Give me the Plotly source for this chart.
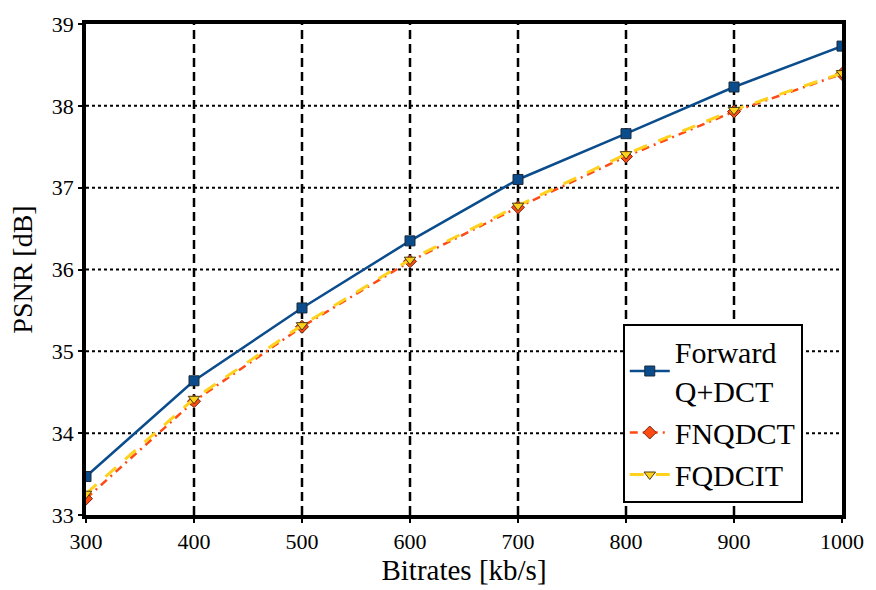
import plotly.graph_objects as go

bitrates = [300, 400, 500, 600, 700, 800, 900, 1000]
psnr_forward = [33.47, 34.64, 35.53, 36.35, 37.10, 37.66, 38.23, 38.73]
psnr_fnqdct = [33.20, 34.39, 35.30, 36.10, 36.76, 37.38, 37.93, 38.39]
psnr_fqdcit = [33.26, 34.42, 35.32, 36.12, 36.78, 37.41, 37.95, 38.40]

x_ticks = [300, 400, 500, 600, 700, 800, 900, 1000]
y_ticks = [33, 34, 35, 36, 37, 38, 39]

FONT = "Liberation Serif"

fig = go.Figure()

# vertical dashed grid and horizontal dotted grid drawn as shapes
for xv in x_ticks[1:-1]:
    fig.add_shape(type="line", xref="x", yref="y", x0=xv, x1=xv, y0=33, y1=39,
                  line=dict(color="black", width=2.5, dash="9px,5px"), layer="below")
for yv in y_ticks[1:-1]:
    fig.add_shape(type="line", xref="x", yref="y", x0=300, x1=1000, y0=yv, y1=yv,
                  line=dict(color="black", width=2, dash="3px,3px"), layer="below")

fig.add_trace(go.Scatter(
    x=bitrates, y=psnr_forward, mode="lines+markers", name="Forward<br>Q+DCT",
    line=dict(color="#0b4c8c", width=2.5),
    marker=dict(symbol="square", size=10, color="#0b4c8c",
                line=dict(color="#1a2a3a", width=1)),
))
fig.add_trace(go.Scatter(
    x=bitrates, y=psnr_fnqdct, mode="lines+markers", name="FNQDCT",
    line=dict(color="#ff4a14", width=2.5, dash="8px,5px,2px,5px"),
    marker=dict(symbol="diamond", size=10, color="#ff4a14",
                line=dict(color="#6a2a10", width=1)),
))
fig.add_trace(go.Scatter(
    x=bitrates, y=psnr_fqdcit, mode="lines+markers", name="FQDCIT",
    line=dict(color="#ffd21e", width=3, dash="14px,12px"),
    marker=dict(symbol="triangle-down", size=10, color="#ffd21e",
                line=dict(color="#4a3a10", width=1)),
))

fig.update_layout(
    width=876, height=590,
    margin=dict(l=86, r=28, t=17, b=73),
    plot_bgcolor="white", paper_bgcolor="white",
    font=dict(family=FONT, size=22, color="black"),
    showlegend=True,
    legend=dict(
        x=0.710, y=0.39, xanchor="left", yanchor="top",
        bgcolor="white", bordercolor="black", borderwidth=2,
        font=dict(family=FONT, size=30, color="black"),
        itemwidth=40, tracegroupgap=0,
    ),
    xaxis=dict(
        range=[300, 1000], tickvals=x_ticks, showgrid=False, zeroline=False,
        showline=True, linecolor="black", linewidth=3.5, mirror=True,
        ticks="outside", ticklen=4, tickwidth=1.5, tickcolor="black",
        tickfont=dict(family=FONT, size=22),
        title=dict(text="Bitrates [kb/s]", font=dict(family=FONT, size=29), standoff=4),
    ),
    yaxis=dict(
        range=[33, 39], tickvals=y_ticks, showgrid=False, zeroline=False,
        showline=True, linecolor="black", linewidth=3.5, mirror=True,
        ticks="outside", ticklen=4, tickwidth=1.5, tickcolor="black",
        tickfont=dict(family=FONT, size=22),
        title=dict(text="PSNR [dB]", font=dict(family=FONT, size=28), standoff=12),
    ),
)

fig.write_html("out.html")
